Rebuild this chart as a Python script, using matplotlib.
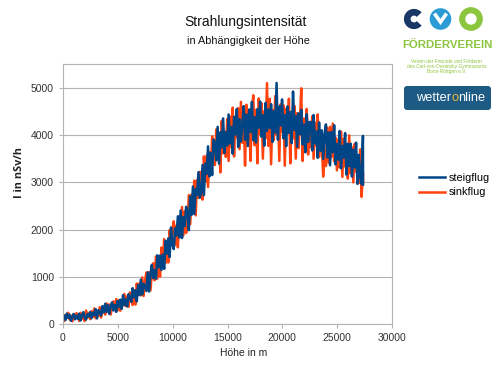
import matplotlib
matplotlib.use("Agg")
import matplotlib.pyplot as plt
from matplotlib.patches import Circle, Arc, FancyBboxPatch

plt.rcParams['font.family'] = ['Liberation Sans', 'DejaVu Sans']

# Höhe in m
hoehe = [100, 225, 350, 475, 600, 725, 850, 975, 1100, 1225,
         1350, 1475, 1600, 1725, 1850, 1975, 2100, 2225, 2350, 2475,
         2600, 2725, 2850, 2975, 3100, 3225, 3350, 3475, 3600, 3725,
         3850, 3975, 4100, 4225, 4350, 4475, 4600, 4725, 4850, 4975,
         5100, 5225, 5350, 5475, 5600, 5725, 5850, 5975, 6100, 6225,
         6350, 6475, 6600, 6725, 6850, 6975, 7100, 7225, 7350, 7475,
         7600, 7725, 7850, 7975, 8100, 8225, 8350, 8475, 8600, 8725,
         8850, 8975, 9100, 9225, 9350, 9475, 9600, 9725, 9850, 9975,
         10100, 10225, 10350, 10475, 10600, 10725, 10850, 10975, 11100, 11225,
         11350, 11475, 11600, 11725, 11850, 11975, 12100, 12225, 12350, 12475,
         12600, 12725, 12850, 12975, 13100, 13225, 13350, 13475, 13600, 13725,
         13850, 13975, 14100, 14225, 14350, 14475, 14600, 14725, 14850, 14975,
         15100, 15225, 15350, 15475, 15600, 15725, 15850, 15975, 16100, 16225,
         16350, 16475, 16600, 16725, 16850, 16975, 17100, 17225, 17350, 17475,
         17600, 17725, 17850, 17975, 18100, 18225, 18350, 18475, 18600, 18725,
         18850, 18975, 19100, 19225, 19350, 19475, 19600, 19725, 19850, 19975,
         20100, 20225, 20350, 20475, 20600, 20725, 20850, 20975, 21100, 21225,
         21350, 21475, 21600, 21725, 21850, 21975, 22100, 22225, 22350, 22475,
         22600, 22725, 22850, 22975, 23100, 23225, 23350, 23475, 23600, 23725,
         23850, 23975, 24100, 24225, 24350, 24475, 24600, 24725, 24850, 24975,
         25100, 25225, 25350, 25475, 25600, 25725, 25850, 25975, 26100, 26225,
         26350, 26475, 26600, 26725, 26850, 26975, 27100, 27225, 27350,
         27360]

# I in nSv/h
steigflug = [174, 86, 222, 134, 198, 70, 158, 214, 102, 182,
             110, 220, 78, 179, 253, 138, 95, 214, 162, 256,
             124, 244, 188, 319, 120, 295, 261, 183, 380, 247,
             430, 259, 400, 216, 383, 460, 289, 404, 259, 491,
             365, 517, 323, 610, 402, 523, 375, 632, 558, 470,
             760, 567, 713, 480, 827, 613, 940, 627, 853, 800,
             700, 1094, 689, 1058, 1253, 972, 1142, 961, 1456, 1200,
             1450, 1146, 1471, 1167, 1762, 1488, 1813, 1419, 2044, 1680,
             1586, 2026, 1873, 2280, 1830, 2402, 1820, 2260, 2074, 2481,
             2376, 1987, 2699, 2310, 2909, 2329, 2852, 2729, 3213, 2672,
             2782, 3364, 2728, 3393, 3177, 3759, 3123, 3620, 3152, 3902,
             3835, 3463, 4172, 3395, 4058, 3732, 4350, 3618, 4057, 3775,
             4434, 3821, 4168, 3603, 4382, 4010, 4549, 3744, 4331, 3862,
             4218, 4609, 3895, 4430, 3765, 4539, 4066, 4697, 3887, 4374,
             3840, 4546, 4151, 4707, 3962, 4418, 3773, 4679, 4084, 4540,
             4150, 4650, 3850, 4500, 4050, 5100, 3900, 4600, 4200, 4750,
             3930, 4421, 3762, 4603, 4044, 4486, 3827, 4918, 4109, 4400,
             3748, 4457, 4014, 4531, 3800, 4220, 3633, 4438, 3851, 4272,
             4275, 3673, 4422, 3820, 4073, 3517, 4265, 3663, 4097, 3495,
             4015, 4222, 3529, 4052, 3359, 4061, 3638, 4206, 3378, 3810,
             3475, 4083, 3296, 3768, 3521, 4039, 3162, 3814, 3342, 3815,
             3120, 3689, 3313, 3836, 2965, 3579, 3113, 2961, 3980,
             2950]

sinkflug = [69, 195, 132, 240, 96, 177, 60, 213, 114, 231,
            195, 67, 239, 111, 173, 65, 287, 139, 231, 105,
            274, 152, 330, 124, 266, 168, 358, 140, 330, 304,
            202, 437, 266, 417, 204, 384, 479, 308, 529, 288,
            506, 283, 491, 396, 637, 381, 590, 367, 671, 528,
            404, 717, 413, 858, 621, 867, 608, 987, 595, 908,
            1093, 759, 1101, 713, 1082, 1288, 928, 1431, 963, 1385,
            1003, 1620, 1279, 1797, 1291, 1743, 1303, 1986, 1678, 1998,
            2174, 1678, 2083, 1623, 2280, 1964, 2477, 1873, 2386, 1926,
            2100, 2727, 2113, 2740, 2447, 3033, 2300, 3047, 2673, 3220,
            3214, 2632, 3546, 3007, 3569, 2899, 3637, 3230, 3968, 3518,
            3364, 4117, 3527, 3992, 3209, 4299, 3612, 4077, 3535, 4336,
            3450, 4391, 3742, 4578, 3544, 4381, 3952, 4568, 3699, 4700,
            3834, 4401, 3350, 4638, 3973, 4315, 3450, 4553, 4839, 3782,
            4530, 3400, 4773, 4025, 4668, 3500, 4505, 3931, 5096, 3768,
            4764, 3380, 4532, 3894, 4822, 4010, 4474, 3450, 4648, 4068,
            4628, 3350, 4552, 4079, 4766, 3400, 4343, 3928, 4615, 3500,
            4460, 3721, 4270, 4987, 3450, 4348, 3889, 4550, 3587, 4248,
            3738, 4397, 3497, 4260, 3775, 4435, 3534, 4089, 3813, 3120,
            3672, 3342, 4156, 3411, 4173, 3531, 4241, 3444, 3946, 3252,
            3908, 3314, 4072, 3113, 3923, 3329, 3723, 3076, 3990, 3188,
            3740, 2996, 3812, 3223, 3571, 2983, 3695, 2690, 3194,
            3000]

fig = plt.figure(figsize=(5, 3.7), dpi=100)
ax = fig.add_axes([0.126, 0.124, 0.658, 0.703])

l_sink, = ax.plot(hoehe, sinkflug, color='#ff420e', lw=1.8)
l_steig, = ax.plot(hoehe, steigflug, color='#004586', lw=1.8)

ax.set_xlim(0, 30000)
ax.set_ylim(0, 5500)
ax.set_xticks(range(0, 30001, 5000))
ax.set_yticks(range(0, 5001, 1000))
ax.grid(axis='y', color='#b3b3b3', lw=0.8)
ax.set_axisbelow(True)
for s in ax.spines.values():
    s.set_color('#b3b3b3')
    s.set_linewidth(0.8)
ax.tick_params(colors='#b3b3b3', labelcolor='#333333', labelsize=7.5, length=3, width=0.8)

fig.text(0.492, 0.94, 'Strahlungsintensität', ha='center', va='center', fontsize=10, color='#111111')
fig.text(0.497, 0.889, 'in Abhängigkeit der Höhe', ha='center', va='center', fontsize=7.8, color='#111111')
fig.text(0.488, 0.046, 'Höhe in m', ha='center', va='center', fontsize=7.5, color='#222222')
fig.text(0.04, 1 - 173 / 370, 'I in nSv/h', ha='center', va='center', rotation=90,
         fontsize=7.8, fontweight='bold', color='#222222', family=['Open Sans', 'DejaVu Sans'])

fig.legend([l_steig, l_sink], ['steigflug', 'sinkflug'], loc='center left',
           bbox_to_anchor=(0.838, 0.5), frameon=False, fontsize=7.8,
           handlelength=2.4, handletextpad=0.3, labelspacing=0.45,
           borderpad=0, borderaxespad=0)

# logos (pixel coordinates)
lg = fig.add_axes([0, 0, 1, 1], zorder=5)
lg.set_xlim(0, 500)
lg.set_ylim(370, 0)
lg.axis('off')

lg.add_patch(Arc((414, 19), 13.5, 13.5, theta1=40, theta2=320, color='#1a3866', lw=4.8))
lg.add_patch(Circle((440.5, 19), 10.8, color='#2a9bd5', lw=0))
lg.plot([435.5, 440.5, 445.5], [15, 22, 15], color='white', lw=2.6, solid_joinstyle='miter')
lg.add_patch(Circle((471, 19), 8.8, fill=False, color='#8cc63e', lw=4.4))

lg.text(447, 45, 'FÖRDERVEREIN', ha='center', va='center', fontsize=8.2,
        fontweight='bold', color='#8cc63e')
lg.text(447, 61.5, 'Verein der Freunde und Förderer', ha='center', va='center', fontsize=3.4, color='#8cc63e')
lg.text(447, 66.5, 'des Carl-von-Ossietzky-Gymnasiums', ha='center', va='center', fontsize=3.4, color='#8cc63e')
lg.text(447, 71.5, 'Bonn-Röttgen e.V.', ha='center', va='center', fontsize=3.4, color='#8cc63e')

lg.add_patch(FancyBboxPatch((404, 86), 87, 24, boxstyle='round,pad=0,rounding_size=3',
                            color='#1d5b84', lw=0))
lg.text(451.5, 98, 'wetter', ha='right', va='center', fontsize=9.2, color='white')
lg.text(455, 98, 'o', ha='center', va='center', fontsize=9.2, color='#f2b233')
lg.text(458.5, 98, 'nline', ha='left', va='center', fontsize=9.2, color='white')

fig.savefig('out.png', dpi=100)
